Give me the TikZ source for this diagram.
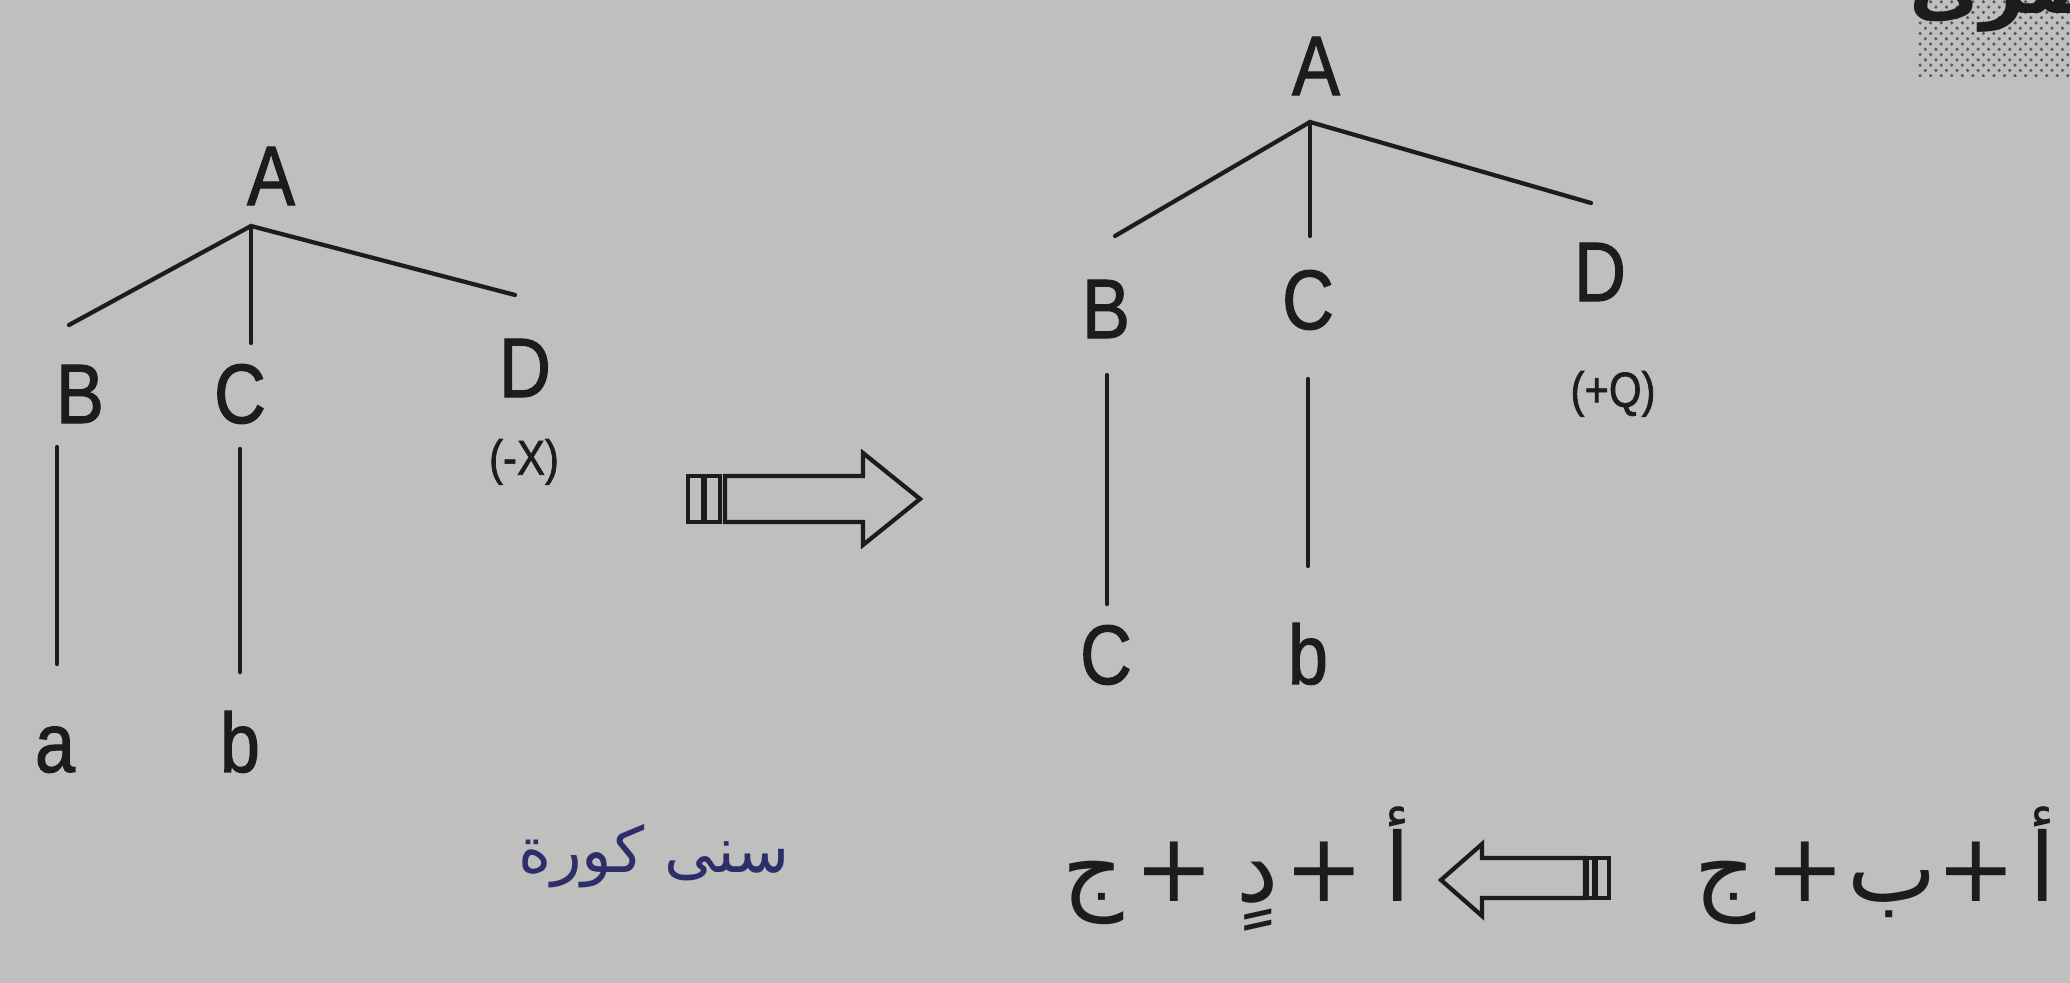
\documentclass[tikz,border=0pt]{standalone}
\usepackage{fontspec}
\setmainfont{Liberation Sans}[FakeStretch=0.85, FakeBold=1.3]
\newfontfamily\arabicfont[Script=Arabic]{DejaVu Sans}
\TeXXeTstate=1
\usetikzlibrary{patterns}
\definecolor{paper}{RGB}{191,192,190}
\definecolor{ink}{RGB}{28,28,28}
\definecolor{pen}{RGB}{45,45,105}
\tikzset{
  treelabel/.style={font=\fontsize{24}{28}\selectfont, text=ink, inner sep=0pt},
  leaf/.style={treelabel, anchor=base},
  feature/.style={font=\fontsize{14}{16}\selectfont, text=ink, inner sep=0pt},
  branch/.style={draw=ink, line width=1.2pt},
  blockarrow/.style={draw=ink, line width=1.2pt, line join=miter},
  glyph/.style={font=\arabicfont\fontsize{27}{30}\selectfont, text=ink, inner sep=0pt, anchor=base},
  handnote/.style={font=\arabicfont\fontsize{18}{22}\selectfont, text=pen, inner sep=0pt}
}

\begin{document}
\begin{tikzpicture}[x=0.01cm, y=-0.01cm, line cap=round]

  % photographed page
  \fill[paper] (0,0) rectangle (2070,983);
  \useasboundingbox (0,0) rectangle (2070,983);

  % cut-off heading in the top right corner
  \begin{scope}
    \clip (0,0) rectangle (2070,983);
    \fill[pattern=crosshatch dots, pattern color=gray!70!black] (1917,0) rectangle (2070,77);
    \node[glyph, font=\arabicfont\bfseries\fontsize{22}{24}\selectfont] (head) at (2022,14) {\beginR بصرى\endR};
  \end{scope}

  % left tree
  \node[treelabel] (LA) at (271,176) {A};
  \coordinate (LAj) at (251,226);
  \node[treelabel] (LB) at (80,394) {B};
  \node[treelabel] (LC) at (240,394) {C};
  \node[treelabel] (LD) at (525,368) {D};
  \node[feature] (LX) at (524,462) {(-X)};
  \node[leaf] (La) at (55,772) {a};
  \node[leaf] (Lb) at (240,772) {b};

  \coordinate (LBu) at (69,325);
  \coordinate (LCu) at (251,343);
  \coordinate (LDu) at (515,295);
  \coordinate (LBd) at (57,447);
  \coordinate (Lad) at (57,664);
  \coordinate (LCd) at (240,449);
  \coordinate (Lbd) at (240,672);

  \draw[branch] (LBu) -- (LAj) -- (LDu);
  \draw[branch] (LAj) -- (LCu);
  \draw[branch] (LBd) -- (Lad);
  \draw[branch] (LCd) -- (Lbd);

  % transformation arrow
  \draw[blockarrow] (688,476) rectangle (703,522);
  \draw[blockarrow] (705,476) rectangle (720,522);
  \draw[blockarrow] (725,476) -- (863,476) -- (863,453) -- (920,499)
    -- (863,545) -- (863,522) -- (725,522) -- cycle;

  % right tree
  \node[treelabel] (RA) at (1316,66) {A};
  \coordinate (RAj) at (1310,122);
  \node[treelabel] (RB) at (1106,309) {B};
  \node[treelabel] (RC) at (1308,300) {C};
  \node[treelabel] (RD) at (1600,272) {D};
  \node[feature] (RQ) at (1613,394) {(+Q)};
  \node[leaf] (Rc) at (1106,684) {C};
  \node[leaf] (Rb) at (1308,684) {b};

  \coordinate (RBu) at (1115,236);
  \coordinate (RCu) at (1310,236);
  \coordinate (RDu) at (1591,203);
  \coordinate (RBd) at (1107,375);
  \coordinate (Rcd) at (1107,604);
  \coordinate (RCd) at (1308,379);
  \coordinate (Rbd) at (1308,566);

  \draw[branch] (RBu) -- (RAj) -- (RDu);
  \draw[branch] (RAj) -- (RCu);
  \draw[branch] (RBd) -- (Rcd);
  \draw[branch] (RCd) -- (Rbd);

  % handwritten note
  \node[handnote] (note) at (654,856) {\beginR سنى كورة\endR};

  % letter sums
  \node[glyph] (s1) at (2043,902) {أ};
  \node[glyph] (p1) at (1976,902) {+};
  \node[glyph] (s2) at (1892,902) {ب};
  \node[glyph] (p2) at (1805,902) {+};
  \node[glyph] (s3) at (1725,902) {ج};

  \node[glyph] (t1) at (1398,902) {أ};
  \node[glyph] (q1) at (1324,902) {+};
  \node[glyph] (t2) at (1258,902) {دٍ};
  \node[glyph] (q2) at (1174,902) {+};
  \node[glyph] (t3) at (1093,902) {ج};

  % reverse arrow
  \draw[blockarrow] (1596,858) rectangle (1609,898);
  \draw[blockarrow] (1587,858) rectangle (1594,898);
  \draw[blockarrow] (1585,858) -- (1482,858) -- (1482,844) -- (1441,880)
    -- (1482,916) -- (1482,898) -- (1585,898) -- cycle;

\end{tikzpicture}
\end{document}
